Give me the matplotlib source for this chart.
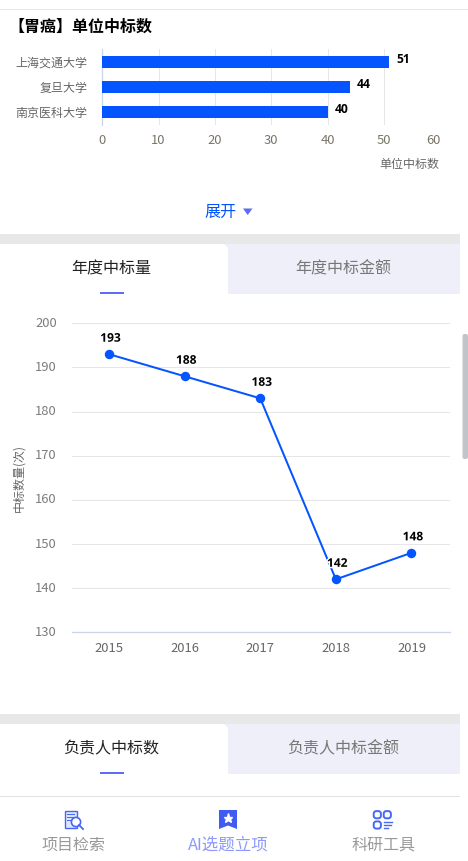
import matplotlib
matplotlib.use("Agg")
import matplotlib.pyplot as plt
import matplotlib.patheffects as pe
from matplotlib.patches import Rectangle, Polygon, FancyBboxPatch, Circle
from matplotlib.transforms import ScaledTranslation

plt.rcParams['font.family'] = ['Noto Sans CJK SC', 'DejaVu Sans']

units = ['上海交通大学', '复旦大学', '南京医科大学']
unit_wins = [51, 44, 40]
x_ticks = [0, 10, 20, 30, 40, 50, 60]
years = ['2015', '2016', '2017', '2018', '2019']
year_wins = [193, 188, 183, 142, 148]
y_ticks = [130, 140, 150, 160, 170, 180, 190, 200]
tabs_a = ['年度中标量', '年度中标金额']
tabs_b = ['负责人中标数', '负责人中标金额']
nav_items = ['项目检索', 'AI选题立项', '科研工具']

W, H = 468, 861
BLUE = '#0455ff'
GRID = '#e6e6e6'
AXIS = '#ccd6eb'
TICK = '#666666'
fig = plt.figure(figsize=(W/100, H/100), dpi=100, facecolor='white')

def pt(px):
    return px * 0.72

def axes_px(l, t, r, b):
    return fig.add_axes([l/W, 1-b/H, (r-l)/W, (b-t)/H])

# page layer in pixel coordinates
pg = fig.add_axes([0, 0, 1, 1], zorder=0)
pg.set_xlim(0, W); pg.set_ylim(H, 0); pg.axis('off')

def rect(x, y, w, h, c, **kw):
    pg.add_patch(Rectangle((x, y), w, h, fc=c, ec='none', **kw))

def txt(x, y, s, size, c, ha='center', **kw):
    pg.text(x, y, s, fontsize=pt(size), color=c, ha=ha, va='center', **kw)

rect(0, 9, 468, 1, '#e8e8e8')
txt(8.5, 26.5, '【胃癌】单位中标数', 16, '#000000', ha='left', fontweight='bold')
txt(220.5, 212, '展开', 16, '#0455ff')
pg.add_patch(Polygon([(243, 208.5), (252.5, 208.5), (247.7, 215)], fc='#5c6cf5', ec='none'))
txt(409.5, 164.5, '单位中标数', 12, TICK)

for top, labels in ((234, tabs_a), (714, tabs_b)):
    rect(0, top, 460, 10, '#e8e8e8')
    rect(228, top+10, 232, 49.5, '#eeeff8')
    pg.add_patch(Polygon([(224, top+10), (228, top+10), (228, top+14)], fc='#eeeff8', ec='none'))
    txt(111.5, top+35, labels[0], 16, '#222222')
    txt(343.5, top+35, labels[1], 16, '#777777')
    rect(100, top+58, 24, 1.5, '#5c6cf5')

rect(0, 796, 460, 1, '#e2e2e2')
pg.add_patch(FancyBboxPatch((462.5, 334), 5.5, 125, boxstyle='round,pad=0,rounding_size=2',
                            fc='#c1c4c9', ec='none'))

# navigation icons
pg.add_patch(Rectangle((64.5, 810.5), 12, 17.5, fc='#dfe6ff', ec='#4668f5', lw=1))
for y_, w_ in ((814, 8), (817, 8), (820, 4)):
    rect(66.5, y_, w_, 1, '#4668f5')
pg.add_patch(Circle((76, 822), 4.6, fc='white', ec='#4668f5', lw=1.2))
pg.plot([79, 83], [825, 829], color='#4668f5', lw=1.3)
pg.add_patch(Polygon([(219, 810), (237, 810), (237, 829), (228, 825.5), (219, 829)], fc='#3f5bf2', ec='none'))
pg.plot([228], [817.5], marker='*', ms=6.5, color='white', ls='none')
for cx, cy in ((377.3, 814.7), (387.3, 814.7), (377.3, 825)):
    pg.add_patch(FancyBboxPatch((cx-3.6, cy-3.6), 7.2, 7.2, boxstyle='round,pad=0,rounding_size=2.6',
                                fc='white', ec='#4668f5', lw=1.4))
for y_, x0, x1 in ((822, 384, 392), (825, 384, 391), (828, 384, 388)):
    pg.plot([x0, x1], [y_, y_], color='#4668f5', lw=1)
txt(73.5, 845, nav_items[0], 16, '#999999')
txt(228, 845, nav_items[1], 16.5, '#8c99fb')
txt(383, 845, nav_items[2], 16, '#999999')

halo = [pe.withStroke(linewidth=2, foreground='white')]

# horizontal bar chart
ax1 = axes_px(102.2, 49, 440.2, 125)
ax1.set_xlim(0, 60); ax1.set_ylim(2.54, -0.5)
ax1.barh(range(3), unit_wins, height=0.48, color=BLUE, zorder=3)
for i, v in enumerate(unit_wins):
    ax1.annotate(str(v), (v, i), xytext=(7, 2), textcoords='offset pixels', fontsize=pt(12),
                 fontweight='bold', color='black', va='center', ha='left',
                 family=['Open Sans', 'DejaVu Sans'], zorder=4)
ax1.set_xticks(x_ticks); ax1.set_yticks(range(3)); ax1.set_yticklabels(units)
ax1.grid(axis='x', color=GRID, lw=0.72, zorder=0)
ax1.tick_params(axis='x', length=0, pad=6.5, labelsize=pt(13), labelcolor='#7a7468')
ax1.tick_params(axis='y', length=0, pad=10.8, labelsize=pt(12), labelcolor=TICK)
ax1.get_xticklabels()[-1].set_ha('right')
for s in ax1.spines.values():
    s.set_visible(False)
ax1.spines['left'].set_visible(True); ax1.spines['left'].set_color(AXIS); ax1.spines['left'].set_linewidth(0.9)
ax1.patch.set_alpha(0)

# line chart
ax2 = axes_px(72, 323.3, 450, 632.3)
ax2.set_xlim(-0.49, 4.51); ax2.set_ylim(130, 200)
ax2.plot(range(5), year_wins, color=BLUE, lw=1.44, marker='o', ms=5.8, zorder=3)
for i, v in enumerate(year_wins):
    ax2.annotate(str(v), (i, v), xytext=(1.5, 16), textcoords='offset pixels', fontsize=pt(12),
                 fontweight='bold', color='black', va='center', ha='center',
                 family=['Open Sans', 'DejaVu Sans'], zorder=4, path_effects=halo)
ax2.set_xticks(range(5)); ax2.set_xticklabels(years)
ax2.set_yticks(y_ticks)
ax2.grid(axis='y', color=GRID, lw=0.72, zorder=0)
ax2.tick_params(axis='x', length=0, pad=7, labelsize=pt(13), labelcolor=TICK)
ax2.tick_params(axis='y', length=0, pad=10.8, labelsize=pt(13), labelcolor='#7c7c7c')
up = ScaledTranslation(0, 1.5/100, fig.dpi_scale_trans)
for lab in ax2.get_yticklabels():
    lab.set_transform(lab.get_transform() + up)
for s in ax2.spines.values():
    s.set_visible(False)
ax2.spines['bottom'].set_visible(True); ax2.spines['bottom'].set_color(AXIS); ax2.spines['bottom'].set_linewidth(0.9)
ax2.patch.set_alpha(0)
txt(18.5, 478.5, '中标数量(次)', 12, TICK, rotation=90)

fig.savefig('out.png', dpi=100, facecolor='white')
